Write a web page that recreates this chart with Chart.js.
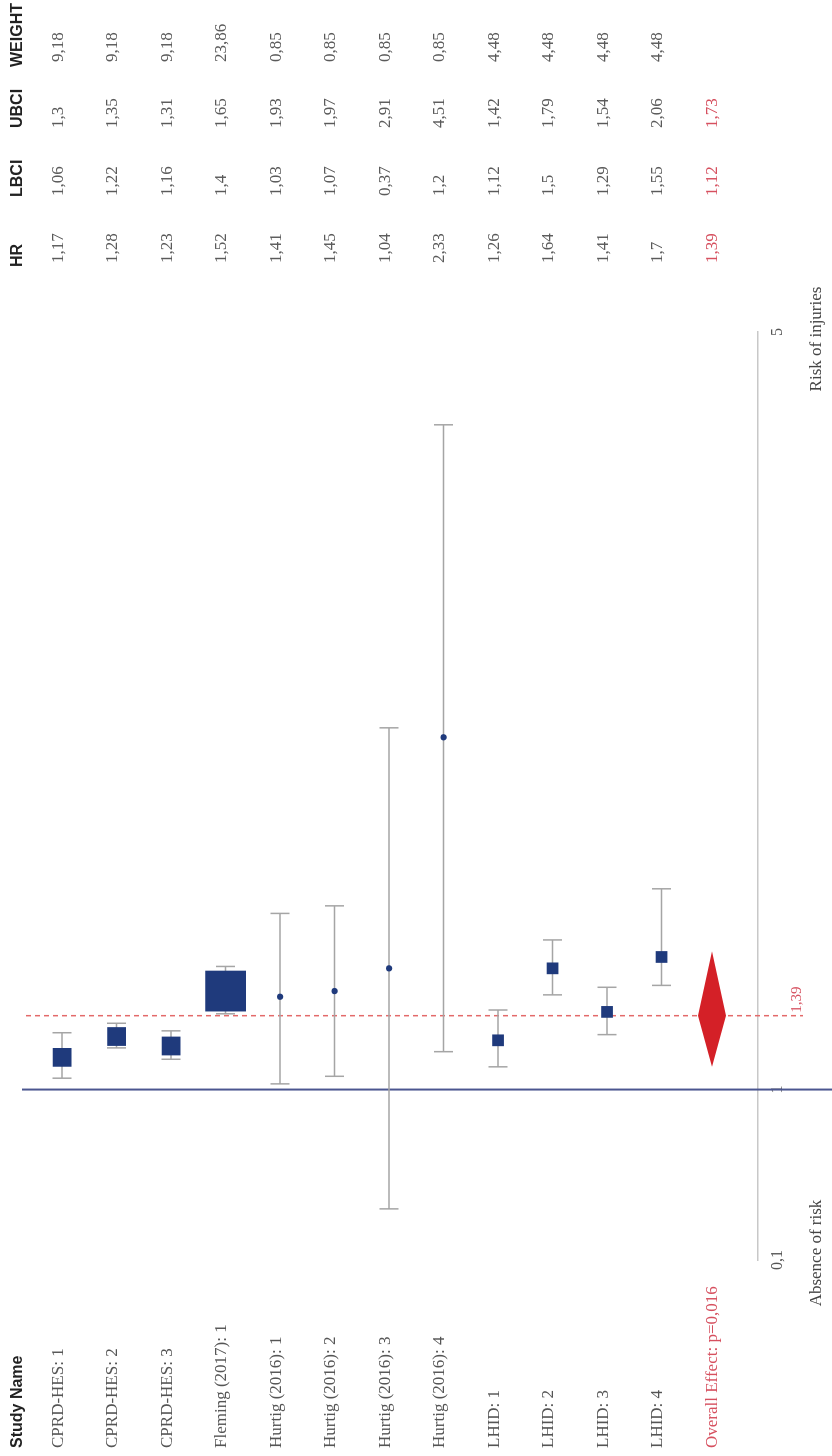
<!DOCTYPE html>
<html>
<head>
<meta charset="utf-8">
<script src="https://cdn.jsdelivr.net/npm/chart.js@4.4.1/dist/chart.umd.min.js"></script>
<style>
  html, body { margin: 0; padding: 0; background: #fff; overflow: hidden; }
  body { width: 832px; height: 1456px; position: relative; }
  /* the figure is drawn landscape and turned a quarter turn to the left */
  #wrap { position: absolute; left: 0; top: 0; width: 1456px; height: 832px;
          transform-origin: 0 0; transform: translateY(1456px) rotate(-90deg); }
</style>
</head>
<body>
<div id="wrap"><canvas id="forest" width="1456" height="832"></canvas></div>
<script>
const studies = ['CPRD-HES: 1', 'CPRD-HES: 2', 'CPRD-HES: 3', 'Fleming (2017): 1',
  'Hurtig (2016): 1', 'Hurtig (2016): 2', 'Hurtig (2016): 3', 'Hurtig (2016): 4',
  'LHID: 1', 'LHID: 2', 'LHID: 3', 'LHID: 4'];
const hr     = [1.17, 1.28, 1.23, 1.52, 1.41, 1.45, 1.04, 2.33, 1.26, 1.64, 1.41, 1.7];
const lbci   = [1.06, 1.22, 1.16, 1.4, 1.03, 1.07, 0.37, 1.2, 1.12, 1.5, 1.29, 1.55];
const ubci   = [1.3, 1.35, 1.31, 1.65, 1.93, 1.97, 2.91, 4.51, 1.42, 1.79, 1.54, 2.06];
const weight = [9.18, 9.18, 9.18, 23.86, 0.85, 0.85, 0.85, 0.85, 4.48, 4.48, 4.48, 4.48];
// where the marks actually sit in the figure (Hurtig points are off their HR)
const markHR = [1.17, 1.28, 1.23, 1.52, 1.49, 1.52, 1.64, 2.86, 1.26, 1.64, 1.41, 1.7];

const overallLabel = 'Overall Effect: p=0,016';
const overallHR = 1.39, overallLo = 1.12, overallHi = 1.73;

const axisTicks = [0.1, 1, 5];
const leftTitle = 'Absence of risk';
const rightTitle = 'Risk of injuries';
const colHeaders = ['HR', 'LBCI', 'UBCI', 'WEIGHT'];

const NAVY = '#1f3a7c';
const RED = '#d42027';
const PINK = '#d6505f';
const SERIF = '"Liberation Serif", "Times New Roman", serif';
const SANS = '"Liberation Sans", Arial, sans-serif';

const fmt = v => String(v).replace('.', ',');

const forestPlugin = {
  id: 'forest',
  beforeDatasetsDraw(chart) {
    const { ctx } = chart;
    const x = chart.scales.x, y = chart.scales.y;
    ctx.save();
    // line of no effect
    const x1 = x.getPixelForValue(1);
    ctx.strokeStyle = '#4b5690';
    ctx.lineWidth = 2;
    ctx.beginPath();
    ctx.moveTo(x1, 22);
    ctx.lineTo(x1, chart.height);
    ctx.stroke();
    // pooled estimate
    const xp = x.getPixelForValue(overallHR);
    ctx.strokeStyle = '#e36a6a';
    ctx.lineWidth = 1.5;
    ctx.setLineDash([5, 4]);
    ctx.beginPath();
    ctx.moveTo(xp, 26);
    ctx.lineTo(xp, 803);
    ctx.stroke();
    ctx.setLineDash([]);
    // confidence intervals
    ctx.strokeStyle = '#a5a5a5';
    ctx.lineWidth = 1.5;
    studies.forEach((s, i) => {
      const py = y.getPixelForValue(i);
      const a = x.getPixelForValue(lbci[i]);
      const b = x.getPixelForValue(ubci[i]);
      ctx.beginPath();
      ctx.moveTo(a, py); ctx.lineTo(b, py);
      ctx.moveTo(a, py - 9.5); ctx.lineTo(a, py + 9.5);
      ctx.moveTo(b, py - 9.5); ctx.lineTo(b, py + 9.5);
      ctx.stroke();
    });
    ctx.restore();
  },
  afterDatasetsDraw(chart) {
    const { ctx } = chart;
    const x = chart.scales.x, y = chart.scales.y;
    ctx.save();
    // overall diamond
    const py = y.getPixelForValue(studies.length) - 4;
    ctx.fillStyle = RED;
    ctx.beginPath();
    ctx.moveTo(x.getPixelForValue(overallLo), py);
    ctx.lineTo(x.getPixelForValue(overallHR), py - 14);
    ctx.lineTo(x.getPixelForValue(overallHi), py);
    ctx.lineTo(x.getPixelForValue(overallHR), py + 14);
    ctx.closePath();
    ctx.fill();

    ctx.textBaseline = 'middle';
    ctx.textAlign = 'left';
    // headers
    ctx.fillStyle = '#222';
    ctx.font = 'bold 16px ' + SANS;
    ctx.fillText('Study Name', 8, 18);
    const headX = [1189, 1259, 1328, 1389];
    colHeaders.forEach((h, k) => ctx.fillText(h, headX[k], 18));

    // rows
    const colX = [1193, 1260, 1328, 1394];
    ctx.font = '17px ' + SERIF;
    studies.forEach((s, i) => {
      const ty = y.getPixelForValue(i) - 4;
      ctx.fillStyle = '#555';
      ctx.fillText(s, 8, ty);
      ctx.fillStyle = '#5a5a5a';
      [hr[i], lbci[i], ubci[i], weight[i]].forEach((v, k) => ctx.fillText(fmt(v), colX[k], ty));
    });
    const oy = y.getPixelForValue(studies.length) - 4;
    ctx.fillStyle = PINK;
    ctx.fillText(overallLabel, 8, oy);
    [overallHR, overallLo, overallHi].forEach((v, k) => ctx.fillText(fmt(v), colX[k], oy));

    // pooled value beside the dashed line
    ctx.font = '15px ' + SERIF;
    ctx.fillText(fmt(overallHR), x.getPixelForValue(overallHR) + 3, 797);

    // axis titles
    ctx.fillStyle = '#444';
    ctx.font = '17px ' + SERIF;
    ctx.textAlign = 'center';
    ctx.fillText(leftTitle, 203, 817);
    ctx.fillText(rightTitle, 1117, 817);
    ctx.restore();
  }
};

const ctx = document.getElementById('forest').getContext('2d');
const chart = new Chart(ctx, {
  type: 'scatter',
  data: {
    datasets: [{
      data: markHR.map((v, i) => ({ x: v, y: i })),
      backgroundColor: NAVY,
      borderColor: NAVY,
      borderWidth: 0,
      pointStyle: weight.map(w => (w < 1 ? 'circle' : 'rect')),
      pointRadius: weight.map(w => {
        const side = 5 + 1.5 * w;
        return w < 1 ? side / 2 : side / Math.SQRT2;
      }),
      pointHoverRadius: 0
    }]
  },
  options: {
    responsive: false,
    animation: false,
    layout: { autoPadding: false, padding: { left: 196, right: 332, top: 0, bottom: 0 } },
    plugins: { legend: { display: false }, tooltip: { enabled: false } },
    scales: {
      x: {
        type: 'linear',
        min: 0.1,
        max: 5,
        afterBuildTicks: scale => { scale.ticks = axisTicks.map(v => ({ value: v })); },
        afterFit: scale => { scale.height = 74; },
        grid: { display: true, color: 'rgba(0,0,0,0)', drawTicks: false },
        border: { display: true, color: '#c8c8c8', width: 1.5 },
        ticks: {
          padding: 10,
          maxRotation: 0,
          autoSkip: false,
          color: '#555',
          font: { family: SERIF, size: 16 },
          callback: v => fmt(v)
        }
      },
      y: {
        type: 'linear',
        display: false,
        reverse: true,
        min: -1.14,
        max: 12.77
      }
    }
  },
  plugins: [forestPlugin]
});
</script>
</body>
</html>
